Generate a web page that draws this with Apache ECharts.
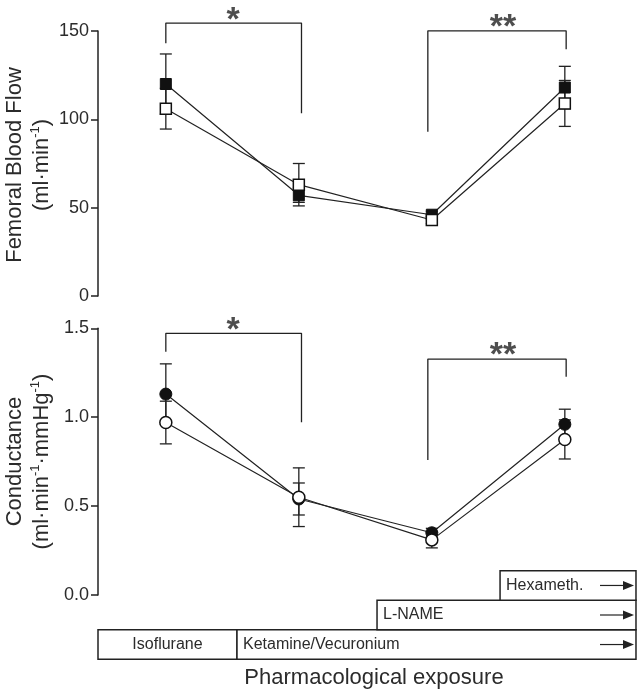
<!DOCTYPE html>
<html>
<head>
<meta charset="utf-8">
<script src="https://cdn.jsdelivr.net/npm/echarts@6/dist/echarts.min.js"></script>
<style>
html,body{margin:0;padding:0;background:#fff;}
#c{width:638px;height:694px;}
</style>
</head>
<body>
<div id="c"></div>
<script>
// ---- data ----
var xs = [1, 2, 3, 4];
var flowFilled = [120, 57, 46, 118];
var flowFilledErr = [17, 4, 2, 12];
var flowOpen = [106, 63, 43, 109];
var flowOpenErr = [11.5, 12, 2, 13];
var condFilled = [1.13, 0.54, 0.35, 0.96];
var condFilledErr = [0.17, 0.09, 0.025, 0.085];
var condOpen = [0.97, 0.55, 0.31, 0.875];
var condOpenErr = [0.12, 0.165, 0.045, 0.11];
var flowTicks = [0, 50, 100, 150];
var condTicks = [0.0, 0.5, 1.0, 1.5];
// significance brackets (x in point units, y in axis units)
var flowBracket1 = [[1, 143], [1, 154.5], [2.02, 154.5], [2.02, 103.5]];
var flowBracket2 = [[2.97, 93], [2.97, 150.1], [4.01, 150.1], [4.01, 139.6]];
var condBracket1 = [[1, 1.368], [1, 1.472], [2.02, 1.472], [2.02, 0.971]];
var condBracket2 = [[2.97, 0.759], [2.97, 1.327], [4.01, 1.327], [4.01, 1.228]];
var flowStars = [[1.505, 160.4, '*'], [3.535, 156.4, '**']];
var condStars = [[1.505, 1.53, '*'], [3.535, 1.392, '**']];
// protocol phases
var phaseNames = ['Isoflurane', 'Ketamine/Vecuronium', 'L-NAME', 'Hexameth.'];
var phaseStart = [0.49, 1.535, 2.588, 3.513];
var phaseEnd = [1.535, 4.535, 4.535, 4.535];
var phaseRow = [0, 0, 1, 2];
var phaseArrow = [0, 1, 1, 1];

var FONT = '"Liberation Sans", Arial, Helvetica, sans-serif';
var INK = '#222';
var TXT = '#2b2b2b';

function pairs(v) { return xs.map(function (x, i) { return [x, v[i]]; }); }
function errData(v, e) { return xs.map(function (x, i) { return [x, v[i], e[i]]; }); }

function errRender(params, api) {
  var x = api.value(0), y = api.value(1), e = api.value(2);
  var top = api.coord([x, y + e]);
  var bot = api.coord([x, y - e]);
  var hw = 6;
  var st = { stroke: INK, lineWidth: 1.3 };
  return {
    type: 'group',
    children: [
      { type: 'line', shape: { x1: top[0], y1: top[1], x2: bot[0], y2: bot[1] }, style: st },
      { type: 'line', shape: { x1: top[0] - hw, y1: top[1], x2: top[0] + hw, y2: top[1] }, style: st },
      { type: 'line', shape: { x1: bot[0] - hw, y1: bot[1], x2: bot[0] + hw, y2: bot[1] }, style: st }
    ]
  };
}

function phaseRender(params, api) {
  var i = params.dataIndex;
  var s = api.value(0), e = api.value(1), r = api.value(2);
  var p0 = api.coord([s, r]);
  var p1 = api.coord([e, r + 1]);
  var x0 = p0[0], y0 = p1[1], w = p1[0] - p0[0], h = p0[1] - p1[1];
  var cy = y0 + h / 2;
  var children = [
    { type: 'rect', shape: { x: x0, y: y0, width: w, height: h }, style: { fill: '#fff', stroke: INK, lineWidth: 1.5 } }
  ];
  var centered = !phaseArrow[i];
  children.push({
    type: 'text',
    style: {
      x: centered ? x0 + w / 2 : x0 + 6,
      y: cy,
      text: phaseNames[i],
      fill: TXT,
      font: '16px ' + FONT,
      align: centered ? 'center' : 'left',
      verticalAlign: 'middle'
    }
  });
  if (phaseArrow[i]) {
    var xe = x0 + w - 2;
    children.push({ type: 'line', shape: { x1: xe - 34, y1: cy, x2: xe - 9, y2: cy }, style: { stroke: INK, lineWidth: 1.2 } });
    children.push({ type: 'polygon', shape: { points: [[xe - 11, cy - 4.5], [xe, cy], [xe - 11, cy + 4.5]] }, style: { fill: INK } });
  }
  return { type: 'group', children: children };
}

var yAxisCommon = {
  type: 'value',
  axisLine: { show: true, lineStyle: { color: INK, width: 1.5 } },
  axisTick: { show: true, length: 7, lineStyle: { color: INK, width: 1.5 } },
  splitLine: { show: false },
  axisLabel: { fontSize: 18, fontFamily: FONT, color: TXT, margin: 9 }
};

function bracketSeries(data, gi) {
  return {
    type: 'line', xAxisIndex: gi, yAxisIndex: gi, data: data, clip: false,
    symbol: 'none', silent: true, animation: false,
    lineStyle: { color: INK, width: 1.3 }, z: 1
  };
}
function starSeries(data, gi) {
  return {
    type: 'scatter', xAxisIndex: gi, yAxisIndex: gi, clip: false, silent: true, animation: false,
    symbolSize: 0.01, itemStyle: { color: 'rgba(0,0,0,0)' },
    data: data.map(function (d) { return { value: [d[0], d[1]], label: { formatter: d[2] } }; }),
    label: { show: true, position: 'inside', offset: [0, 8], fontSize: 34, fontWeight: 'bold', fontFamily: FONT, color: INK }
  };
}

var chart = echarts.init(document.getElementById('c'), null, { renderer: 'canvas' });
chart.setOption({
  animation: false,
  backgroundColor: '#fff',
  grid: [
    { left: 98, top: 31, width: 532, height: 265 },
    { left: 98, top: 328.3, width: 532, height: 266.7 },
    { left: 98, top: 570.7, width: 532, height: 88.6 }
  ],
  xAxis: [
    { type: 'value', gridIndex: 0, min: 0.49, max: 4.49, show: false },
    { type: 'value', gridIndex: 1, min: 0.49, max: 4.49, show: false },
    { type: 'value', gridIndex: 2, min: 0.49, max: 4.49, show: false }
  ],
  yAxis: [
    Object.assign({}, yAxisCommon, { gridIndex: 0, min: flowTicks[0], max: flowTicks[3], interval: flowTicks[1] - flowTicks[0] }),
    Object.assign({}, yAxisCommon, {
      gridIndex: 1, min: condTicks[0], max: condTicks[3], interval: condTicks[1] - condTicks[0],
      axisLabel: Object.assign({}, yAxisCommon.axisLabel, { formatter: function (v) { return v.toFixed(1); } })
    }),
    { type: 'value', gridIndex: 2, min: 0, max: 3, show: false }
  ],
  graphic: [
    {
      type: 'text', x: 28, y: 165, rotation: Math.PI / 2,
      style: {
        text: '{a|Femoral Blood Flow}\n{a|(ml·min}{s|-1}{a|)}',
        align: 'center', verticalAlign: 'middle',
        rich: {
          a: { fontSize: 22, fontFamily: FONT, fill: TXT, lineHeight: 27 },
          s: { fontSize: 13, fontFamily: FONT, fill: TXT, lineHeight: 27, padding: [0, 0, 12, 0] }
        }
      }
    },
    {
      type: 'text', x: 28, y: 461.5, rotation: Math.PI / 2,
      style: {
        text: '{a|Conductance}\n{a|(ml·min}{s|-1}{a|·mmHg}{s|-1}{a|)}',
        align: 'center', verticalAlign: 'middle',
        rich: {
          a: { fontSize: 22, fontFamily: FONT, fill: TXT, lineHeight: 27 },
          s: { fontSize: 13, fontFamily: FONT, fill: TXT, lineHeight: 27, padding: [0, 0, 12, 0] }
        }
      }
    },
    {
      type: 'text', x: 374, y: 678,
      style: { text: 'Pharmacological exposure', font: '22px ' + FONT, fill: TXT, align: 'center', verticalAlign: 'middle' }
    }
  ],
  series: [
    { type: 'custom', xAxisIndex: 0, yAxisIndex: 0, renderItem: errRender, data: errData(flowFilled, flowFilledErr), z: 1, silent: true },
    { type: 'custom', xAxisIndex: 0, yAxisIndex: 0, renderItem: errRender, data: errData(flowOpen, flowOpenErr), z: 1, silent: true },
    bracketSeries(flowBracket1, 0), bracketSeries(flowBracket2, 0), starSeries(flowStars, 0),
    {
      type: 'line', xAxisIndex: 0, yAxisIndex: 0, data: pairs(flowFilled), z: 2,
      symbol: 'rect', symbolSize: 11, showAllSymbol: true,
      lineStyle: { color: INK, width: 1.2 }, itemStyle: { color: '#111', borderColor: '#111', borderWidth: 1 }
    },
    {
      type: 'line', xAxisIndex: 0, yAxisIndex: 0, data: pairs(flowOpen), z: 3,
      symbol: 'rect', symbolSize: 11, showAllSymbol: true,
      lineStyle: { color: INK, width: 1.2 }, itemStyle: { color: '#fff', borderColor: '#111', borderWidth: 1.5, opacity: 1 }
    },
    { type: 'custom', xAxisIndex: 1, yAxisIndex: 1, renderItem: errRender, data: errData(condFilled, condFilledErr), z: 1, silent: true },
    { type: 'custom', xAxisIndex: 1, yAxisIndex: 1, renderItem: errRender, data: errData(condOpen, condOpenErr), z: 1, silent: true },
    bracketSeries(condBracket1, 1), bracketSeries(condBracket2, 1), starSeries(condStars, 1),
    {
      type: 'line', xAxisIndex: 1, yAxisIndex: 1, data: pairs(condFilled), z: 2,
      symbol: 'circle', symbolSize: 12, showAllSymbol: true,
      lineStyle: { color: INK, width: 1.2 }, itemStyle: { color: '#111', borderColor: '#111', borderWidth: 1 }
    },
    {
      type: 'line', xAxisIndex: 1, yAxisIndex: 1, data: pairs(condOpen), z: 3,
      symbol: 'circle', symbolSize: 12, showAllSymbol: true,
      lineStyle: { color: INK, width: 1.2 }, itemStyle: { color: '#fff', borderColor: '#111', borderWidth: 1.5, opacity: 1 }
    },
    {
      type: 'custom', xAxisIndex: 2, yAxisIndex: 2, renderItem: phaseRender, silent: true,
      data: phaseNames.map(function (n, i) { return [phaseStart[i], phaseEnd[i], phaseRow[i]]; })
    }
  ]
});
</script>
</body>
</html>
